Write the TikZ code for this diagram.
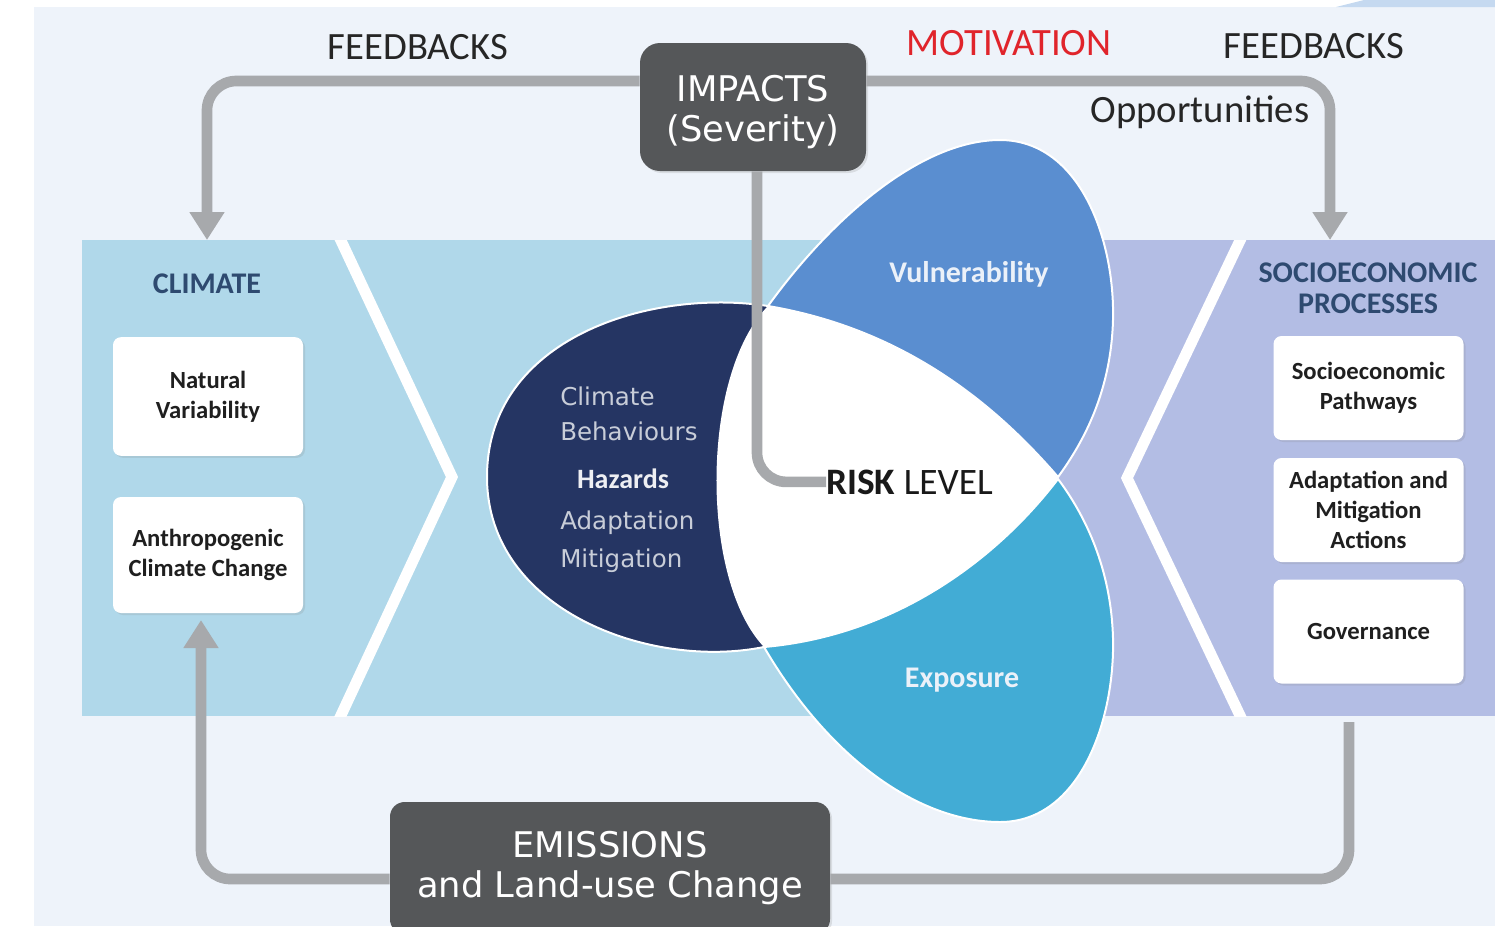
\documentclass[tikz,border=0pt]{standalone}
\usepackage{fontspec}
\setmainfont{Carlito}
\newfontfamily\verafont{DejaVu Sans}
\usetikzlibrary{arrows.meta,shadows}

\definecolor{pagebg}{RGB}{238,243,250}
\definecolor{climband}{RGB}{176,216,234}
\definecolor{sociband}{RGB}{179,189,228}
\definecolor{hazardnavy}{RGB}{37,53,99}
\definecolor{vulnblue}{RGB}{90,142,208}
\definecolor{exposblue}{RGB}{66,172,213}
\definecolor{loopgray}{RGB}{167,169,172}
\definecolor{boxgray}{RGB}{85,87,89}
\definecolor{titleblue}{RGB}{46,74,112}
\definecolor{motivred}{RGB}{224,36,43}
\definecolor{topstrip}{RGB}{197,217,240}

\tikzset{
  whitebox/.style={fill=white, rounded corners=6pt, minimum width=142.5pt, align=center,
    text=black!88, font=\fontsize{18.5}{22.5}\selectfont\bfseries,
    drop shadow={opacity=0.18, shadow xshift=1.5pt, shadow yshift=-1.5pt}},
  darkbox/.style={fill=boxgray, text=white, align=center, font=\verafont\fontsize{26.5}{30}\selectfont,
    drop shadow={opacity=0.2, shadow xshift=1.5pt, shadow yshift=-1.5pt}},
  loopline/.style={draw=loopgray, line width=8pt, rounded corners=22pt},
  looparrow/.style={loopline, -{Triangle[width=25pt,length=21pt]}},
  toplabel/.style={font=\fontsize{29}{34}\selectfont, text=black!85, anchor=base, inner sep=0pt},
  bandtitle/.style={font=\fontsize{22.5}{23.3}\selectfont\bfseries, text=titleblue, align=center},
  petal/.style={draw=white, line width=1.5pt},
  petaltext/.style={font=\fontsize{22.5}{26}\selectfont\bfseries, text=white!88!vulnblue},
  hazline/.style={font=\verafont\fontsize{18.4}{22}\selectfont, text=white!75!hazardnavy, anchor=base west, inner sep=0pt}
}

\begin{document}
\begin{tikzpicture}[x=0.75pt,y=0.75pt,yscale=-1,xscale=1]
\clip (0,0) rectangle (1495,926);
\fill[white] (0,0) rectangle (1495,926);
\fill[pagebg] (34,7) rectangle (1495,926);
\fill[topstrip] (1364,0) -- (1495,0) -- (1495,7) -- (1336,7) -- cycle;

% bands
\fill[climband] (82,240) rectangle (1000,716);
\fill[sociband] (1000,240) rectangle (1495,716);
\begin{scope}
  \clip (82,240) rectangle (1495,716);
  \draw[white, line width=8.25pt] (336,230) -- (452,477) -- (336,726);
  \draw[white, line width=8.25pt] (1245,230) -- (1127,478) -- (1245,726);
\end{scope}

% climate side
\node[bandtitle] (climttl) at (207,284) {CLIMATE};
\node[whitebox, minimum height=89pt] (natvar) at (208,396.5) {Natural\\Variability};
\node[whitebox, minimum height=87pt] (anthro) at (208,555) {Anthropogenic\\Climate Change};

% socioeconomic side
\node[bandtitle] (socittl) at (1368,288) {SOCIOECONOMIC\\PROCESSES};
\node[whitebox, minimum height=78pt] (sspath) at (1368.5,388) {Socioeconomic\\Pathways};
\node[whitebox, minimum height=78pt] (adamit) at (1368.5,510) {Adaptation and\\Mitigation\\Actions};
\node[whitebox, minimum height=78pt] (govern) at (1368.5,631.5) {Governance};

% petals
\path[petal, fill=hazardnavy] (768,306) .. controls (650,288) and (487,338) .. (487,477)
  .. controls (487,610) and (650,670) .. (764,647) -- cycle;
\path[petal, fill=vulnblue] (768,306) .. controls (830,220) and (920,140) .. (1000,140)
  .. controls (1080,140) and (1115,240) .. (1113,320) .. controls (1111,390) and (1085,440) .. (1058,477)
  .. controls (1000,410) and (910,330) .. (768,306) -- cycle;
\path[petal, fill=exposblue] (764,647) .. controls (830,760) and (920,822) .. (1000,822)
  .. controls (1080,822) and (1115,720) .. (1113,638) .. controls (1111,568) and (1085,515) .. (1058,479)
  .. controls (1000,555) and (900,635) .. (764,647) -- cycle;
% risk centre
\path[fill=white] (768,306) .. controls (910,330) and (1000,410) .. (1058,478)
  .. controls (1000,555) and (900,635) .. (764,647) .. controls (700,580) and (700,375) .. (768,306) -- cycle;

\node[petaltext] (vuln) at (969,274) {Vulnerability};
\node[petaltext] (expos) at (962,680) {Exposure};
\node[hazline] (hzclim) at (560,405) {Climate};
\node[hazline] (hzbehav) at (560,440) {Behaviours};
\node[font=\fontsize{21}{24}\selectfont\bfseries, text=white!92!hazardnavy, anchor=base, inner sep=0pt] (hazards) at (623,488) {Hazards};
\node[hazline] (hzadapt) at (560,529) {Adaptation};
\node[hazline] (hzmitig) at (560,567) {Mitigation};
\node[anchor=base west, inner sep=0pt, font=\fontsize{28}{30}\selectfont, text=black!90] (risk) at (826,494) {\textbf{RISK} LEVEL};

% top labels
\node[toplabel] (fbleft) at (418,59) {FEEDBACKS};
\node[toplabel, text=motivred] (motiv) at (1009,55) {MOTIVATION};
\node[toplabel] (fbright) at (1314,58) {FEEDBACKS};
\node[toplabel] (opps) at (1200,122) {Opportunities};

% dark boxes
\node[darkbox, minimum width=169.5pt, minimum height=96pt, rounded corners=15pt] (impacts) at (753,107) {\rule{0pt}{28pt}IMPACTS\\(Severity)};
\node[darkbox, minimum width=330pt, minimum height=99pt, rounded corners=11pt] (emis) at (610,868) {EMISSIONS\\and Land-use Change};

% feedback loops
\coordinate (fbrow) at (0,81);
\coordinate (climtop) at (207,240);
\coordinate (socitop) at (1330,240);
\coordinate (riskcol) at (757,0);
\coordinate (socibot) at (1349,722);
\coordinate (emrow) at (0,879);
\coordinate (anthtip) at (201,620);
\draw[looparrow] (impacts.west |- fbrow) -| (climtop);
\draw[looparrow] (impacts.east |- fbrow) -| (socitop);
\draw[loopline] (impacts.south -| riskcol) |- (risk.west);
\draw[loopline] (socibot) |- (emis.east |- emrow);
\draw[looparrow] (emis.west |- emrow) -| (anthtip);

\end{tikzpicture}
\end{document}
